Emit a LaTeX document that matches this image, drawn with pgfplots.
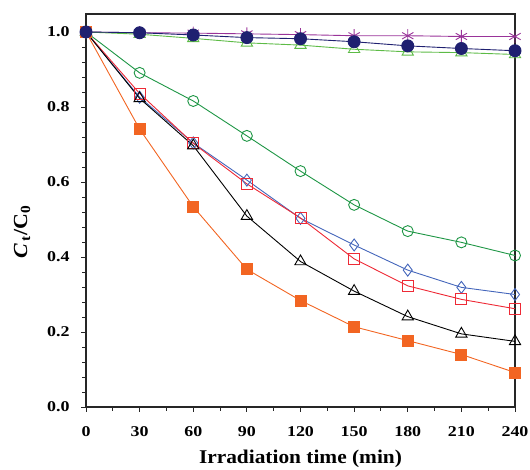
\documentclass[border=0pt]{standalone}
\usepackage{fontspec}
\setmainfont{Liberation Serif}[FakeStretch=1.1]
\newfontfamily\tickfont{Liberation Serif}[FakeStretch=1.2]
\usepackage{pgfplots}
\pgfplotsset{compat=1.18}
\definecolor{cpurple}{HTML}{993399}
\definecolor{cnavy}{HTML}{1F2070}
\definecolor{clgreen}{HTML}{5DBB46}
\definecolor{cdgreen}{HTML}{1E9645}
\definecolor{cblue}{HTML}{4466BB}
\definecolor{cred}{HTML}{EE2A36}
\definecolor{corange}{HTML}{F26522}
\begin{document}
\begin{tikzpicture}[x=1bp,y=1bp]
\useasboundingbox (0,0) rectangle (530,470);
\begin{axis}[
  at={(86bp,63bp)}, anchor=south west,
  scale only axis, width=429bp, height=393bp,
  xmin=0, xmax=240, ymin=0, ymax=1.048,
  xtick={0,30,...,240}, minor x tick num=1,
  ytick={0,0.2,0.4,0.6,0.8,1.0}, minor y tick num=4,
  tick align=outside, xtick pos=lower, ytick pos=left,
  major tick length=5bp, minor tick length=4bp,
  axis line style={line width=1.1bp, black!85},
  every tick/.style={line width=0.9bp, black!85},
  /pgf/number format/assume math mode=true,
  tick label style={font=\tickfont\bfseries\fontsize{15}{15}\selectfont},
  yticklabel style={/pgf/number format/fixed,/pgf/number format/fixed zerofill,/pgf/number format/precision=1, xshift=-8bp},
  xticklabel style={yshift=-11bp},
  xlabel={\bfseries Irradiation time (min)},
  xlabel style={font=\fontsize{19.5}{19.5}\selectfont, at={(axis description cs:0.5,-0.1425)}, anchor=base},
  ylabel={\bfseries\textit{C}\textsubscript{\,t}/C\textsubscript{0}},
  ylabel style={font=\fontsize{20}{20}\selectfont, at={(axis description cs:-0.149,0.445)}, anchor=center},
  clip=false,
  every axis plot/.append style={line width=0.9bp},
]
\addplot[cpurple, mark=asterisk, mark size=6.5bp, mark options={line width=0.9bp}] coordinates {
 (0,1.0) (30,0.998) (60,0.997) (90,0.995) (120,0.993) (150,0.99) (180,0.99) (210,0.988) (240,0.988)};
\addplot[clgreen, mark=triangle, mark size=6.5bp, mark options={line width=0.9bp}] coordinates {
 (0,1.0) (30,0.994) (60,0.983) (90,0.971) (120,0.965) (150,0.954) (180,0.947) (210,0.945) (240,0.94)};
\addplot[cdgreen, mark=o, mark size=5.5bp] coordinates {
 (0,1.0) (30,0.891) (60,0.816) (90,0.723) (120,0.629) (150,0.539) (180,0.469) (210,0.439) (240,0.404)};
\addplot[cblue, mark=diamond, mark size=6bp] coordinates {
 (0,1.0) (30,0.826) (60,0.704) (90,0.605) (120,0.503) (150,0.432) (180,0.365) (210,0.319) (240,0.3)};
\addplot[cred, mark=square, mark size=5.5bp] coordinates {
 (0,1.0) (30,0.836) (60,0.703) (90,0.595) (120,0.504) (150,0.395) (180,0.323) (210,0.287) (240,0.262)};
\addplot[black, mark=triangle, mark size=6.5bp] coordinates {
 (0,1.0) (30,0.823) (60,0.697) (90,0.509) (120,0.388) (150,0.309) (180,0.241) (210,0.195) (240,0.175)};
\addplot[corange, mark=square*, mark size=5.5bp, mark options={fill=corange}] coordinates {
 (0,1.0) (30,0.741) (60,0.534) (90,0.367) (120,0.284) (150,0.214) (180,0.177) (210,0.14) (240,0.092)};
\addplot[cnavy, mark=*, mark size=6bp, mark options={fill=cnavy}] coordinates {
 (0,1.0) (30,0.998) (60,0.992) (90,0.985) (120,0.982) (150,0.974) (180,0.963) (210,0.956) (240,0.95)};
\end{axis}
\end{tikzpicture}
\end{document}
